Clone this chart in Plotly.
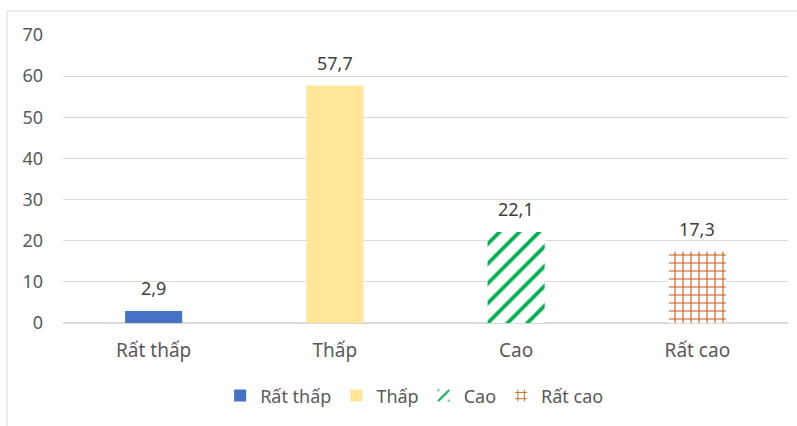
import plotly.graph_objects as go

categories = ["Rất thấp", "Thấp", "Cao", "Rất cao"]
values = [2.9, 57.7, 22.1, 17.3]
colors = ["#4472C4", "#FFE699", "#00B050", "#C65911"]
patterns = ["", "", "/", "+"]
y_ticks = [0, 10, 20, 30, 40, 50, 60, 70]

FONT = "Noto Sans"
fig = go.Figure()
for cat, val, col, pat in zip(categories, values, colors, patterns):
    if pat == "/":
        marker = dict(color="white", pattern=dict(shape=pat, fgcolor=col, bgcolor="white",
                                                   size=14, solidity=0.27, fillmode="replace"),
                      line=dict(width=0))
    elif pat:
        marker = dict(color="white", pattern=dict(shape=pat, fgcolor=col, bgcolor="white",
                                                   size=8, solidity=0.25, fillmode="replace"),
                      line=dict(width=0))
    else:
        marker = dict(color=col, line=dict(width=0))
    fig.add_trace(go.Bar(x=[cat], y=[val], name=cat, marker=marker, hoverinfo="x+y"))
    fig.add_annotation(x=cat, y=val, text=f"{val:.1f}".replace(".", ","),
                       showarrow=False, yanchor="middle", yshift=23,
                       font=dict(family=FONT, color="#404040", size=18))

fig.update_layout(
    width=797, height=426,
    margin=dict(l=63, r=9, t=35, b=103),
    paper_bgcolor="white", plot_bgcolor="white",
    barmode="relative", bargap=0.685,
    separators=",.",
    font=dict(family=FONT, size=18, color="#595959"),
    showlegend=True,
    legend=dict(orientation="h", x=0.485, xanchor="center", y=-0.253, yanchor="middle",
                font=dict(family=FONT, size=18, color="#595959"), itemwidth=30,
                traceorder="normal", tracegroupgap=0),
    xaxis=dict(categoryorder="array", categoryarray=categories, showgrid=False,
               showline=False, ticks="", ticklabelstandoff=14,
               tickfont=dict(family=FONT, size=19, color="#595959")),
    yaxis=dict(range=[0, 70], tickvals=y_ticks, showgrid=True, gridcolor="#D9D9D9",
               gridwidth=1, zeroline=True, zerolinecolor="#D9D9D9", showline=False,
               ticks="", ticklabelstandoff=19,
               tickfont=dict(family=FONT, size=18, color="#595959")),
    shapes=[dict(type="rect", xref="paper", yref="paper",
                 x0=(7 - 63) / 725, x1=(800 - 63) / 725,
                 y0=-0.5, y1=(323.3 - 11) / 288.3,
                 line=dict(color="#D9D9D9", width=1), fillcolor="rgba(0,0,0,0)", layer="below")],
)

fig.write_html("out.html", config={"displayModeBar": False},
               post_script="document.body.style.margin='0px';")
